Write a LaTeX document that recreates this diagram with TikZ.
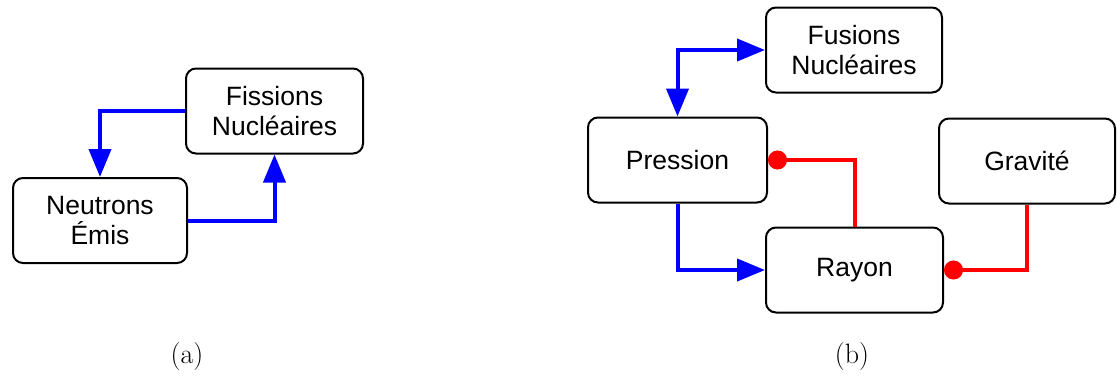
\documentclass[tikz,border=0pt]{standalone}
\usepackage{fontspec}
\newfontfamily\arialf{Liberation Sans}
\usetikzlibrary{arrows.meta}
\tikzset{
  box/.style={draw=black, line width=2pt, rounded corners=10pt, minimum width=#1, minimum height=85pt, align=center, inner sep=0pt, font=\arialf\fontsize{26.5}{30}\selectfont},
  box/.default=177pt,
  posarr/.style={draw=blue, line width=4pt, -{Triangle[length=28pt,width=22pt]}},
  posboth/.style={draw=blue, line width=4pt, {Triangle[length=28pt,width=22pt]}-{Triangle[length=28pt,width=22pt]}},
  negarr/.style={draw=red, line width=4pt, -{Circle[length=19pt]}},
  captxt/.style={font=\fontsize{28}{32}\selectfont, inner sep=0pt}
}
\begin{document}
\begin{tikzpicture}[x=1pt,y=-1pt]
\useasboundingbox (0,0) rectangle (1117,376);
% panel a
\node[box=177pt] (fis) at (274.5,111) {Fissions\\Nucléaires};
\node[box=174pt] (neu) at (100,220.5) {Neutrons\\Émis};
\draw[posarr] (fis.west) -| (neu.north);
\draw[posarr] (neu.east) -| (fis.south);
% panel b
\node[box=176pt] (fus) at (854,50) {Fusions\\Nucléaires};
\node[box=179pt] (pre) at (677.5,160) {Pression};
\node[box=177pt] (ray) at (854.5,270) {Rayon};
\node[box=176pt] (gra) at (1027,161) {Gravité};
\draw[posboth] (fus.west) -| (pre.north);
\draw[posarr] (pre.south) |- (ray.west);
\draw[negarr] (ray.north) |- (pre.east);
\draw[negarr] (gra.south) |- (ray.east);
% captions
\node[captxt] (ca) at (187,357) {(a)};
\node[captxt] (cb) at (852,357) {(b)};
\end{tikzpicture}
\end{document}
